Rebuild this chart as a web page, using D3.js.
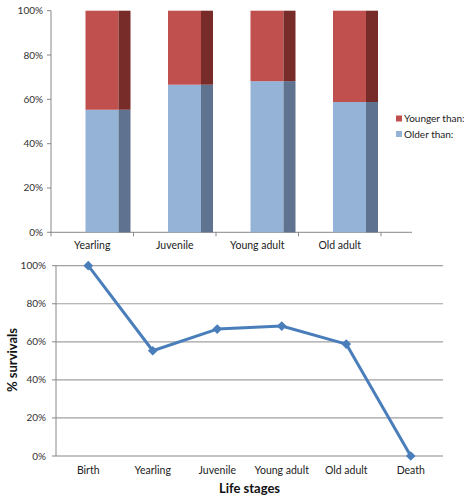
<!DOCTYPE html>
<html><head><meta charset="utf-8">
<script src="https://cdn.jsdelivr.net/npm/d3@7"></script>
<style>body{margin:0;background:#fff}svg{display:block;font-family:Lato,"Open Sans",sans-serif}</style>
</head><body><svg id="c" width="464" height="496"></svg>
<script>
const barCategories = ["Yearling","Juvenile","Young adult","Old adult"];
const olderThan = [55.3, 66.6, 68.2, 58.8];
const youngerThan = olderThan.map(v => 100 - v);
const seriesNames = ["Younger than:","Older than:"];
const lineCategories = ["Birth","Yearling","Juvenile","Young adult","Old adult","Death"];
const survival = [100, 55.3, 66.7, 68.3, 58.8, 0];
const yTicks = [0,20,40,60,80,100];

const svg = d3.select("#c");
const fmt = d => d + "%";

// ---------- Top chart ----------
const x1 = d3.scaleBand().domain(barCategories).range([51, 381]);
const y1 = d3.scaleLinear().domain([0,100]).range([232.3, 10.7]);
const g1 = svg.append("g");
g1.append("line").attr("x1",51).attr("x2",51).attr("y1",y1(100)).attr("y2",y1(0)).attr("stroke","#888");
g1.append("line").attr("x1",51).attr("x2",412).attr("y1",y1(0)).attr("y2",y1(0)).attr("stroke","#888");
yTicks.forEach(t => {
  g1.append("line").attr("x1",47).attr("x2",51).attr("y1",y1(t)).attr("y2",y1(t)).attr("stroke","#888");
  g1.append("text").attr("x",43).attr("y",y1(t)).attr("dy","0.35em").attr("text-anchor","end")
    .attr("font-size",10).attr("fill","#333").text(fmt(t));
});
barCategories.forEach((c,i) => {
  const xb = x1(c) + x1.bandwidth();
  g1.append("line").attr("x1",xb).attr("x2",xb).attr("y1",y1(0)).attr("y2",y1(0)+4).attr("stroke","#888");
});
g1.append("line").attr("x1",51).attr("x2",51).attr("y1",y1(0)).attr("y2",y1(0)+4).attr("stroke","#888");
const fw = 33, sw = 12, off = 34.5;
barCategories.forEach((c,i) => {
  const x0 = x1(c) + off;
  const o = olderThan[i], yv = o + youngerThan[i];
  g1.append("rect").attr("x",x0).attr("y",y1(o)).attr("width",fw).attr("height",y1(0)-y1(o)).attr("fill","#95B3D7");
  g1.append("rect").attr("x",x0+fw).attr("y",y1(o)).attr("width",sw).attr("height",y1(0)-y1(o)).attr("fill","#5F7290");
  g1.append("rect").attr("x",x0).attr("y",y1(yv)).attr("width",fw).attr("height",y1(o)-y1(yv)).attr("fill","#C0504D");
  g1.append("rect").attr("x",x0+fw).attr("y",y1(yv)).attr("width",sw).attr("height",y1(o)-y1(yv)).attr("fill","#772C2A");
  g1.append("text").attr("x",x1(c)+x1.bandwidth()/2).attr("y",249).attr("text-anchor","middle")
    .attr("font-size",10.5).attr("fill","#222").text(c);
});
const legColors = ["#C0504D","#95B3D7"];
seriesNames.forEach((s,i) => {
  const ly = 118.5 + i*15.5;
  g1.append("rect").attr("x",396).attr("y",ly-3).attr("width",6).attr("height",6).attr("fill",legColors[i]);
  g1.append("text").attr("x",404).attr("y",ly).attr("dy","0.35em").attr("font-size",10).attr("fill","#222").text(s);
});

// ---------- Bottom chart ----------
const x2 = d3.scalePoint().domain(lineCategories).range([56, 443]).padding(0.5);
const y2 = d3.scaleLinear().domain([0,100]).range([456, 265.7]);
const g2 = svg.append("g");
yTicks.forEach(t => {
  if (t > 0) g2.append("line").attr("x1",56).attr("x2",443).attr("y1",y2(t)).attr("y2",y2(t)).attr("stroke","#A0A0A0").attr("stroke-width",1.2);
  g2.append("line").attr("x1",52).attr("x2",56).attr("y1",y2(t)).attr("y2",y2(t)).attr("stroke","#888");
  g2.append("text").attr("x",46).attr("y",y2(t)).attr("dy","0.35em").attr("text-anchor","end")
    .attr("font-size",10).attr("fill","#333").text(fmt(t));
});
g2.append("line").attr("x1",56).attr("x2",443).attr("y1",y2(0)).attr("y2",y2(0)).attr("stroke","#888").attr("stroke-width",1.2);
g2.append("line").attr("x1",56).attr("x2",56).attr("y1",y2(100)).attr("y2",y2(0)).attr("stroke","#888");
lineCategories.forEach(c => {
  g2.append("text").attr("x",x2(c)).attr("y",473.5).attr("text-anchor","middle")
    .attr("font-size",10.5).attr("fill","#222").text(c);
});
const line = d3.line().x((d,i) => x2(lineCategories[i])).y(d => y2(d));
g2.append("path").datum(survival).attr("d",line).attr("fill","none").attr("stroke","#4A7EBB").attr("stroke-width",3).attr("stroke-linejoin","round");
g2.selectAll("path.m").data(survival).enter().append("path").attr("class","m")
  .attr("d", d3.symbol().type(d3.symbolDiamond2).size(60))
  .attr("transform",(d,i) => `translate(${x2(lineCategories[i])},${y2(d)})`)
  .attr("fill","#4A7EBB");
g2.append("text").attr("x",249.5).attr("y",493).attr("text-anchor","middle").attr("font-size",13).attr("font-weight","bold").attr("fill","#111").text("Life stages");
g2.append("text").attr("transform","translate(17,360) rotate(-90)").attr("text-anchor","middle").attr("font-size",13).attr("font-weight","bold").attr("fill","#111").text("% survivals");
</script></body></html>
